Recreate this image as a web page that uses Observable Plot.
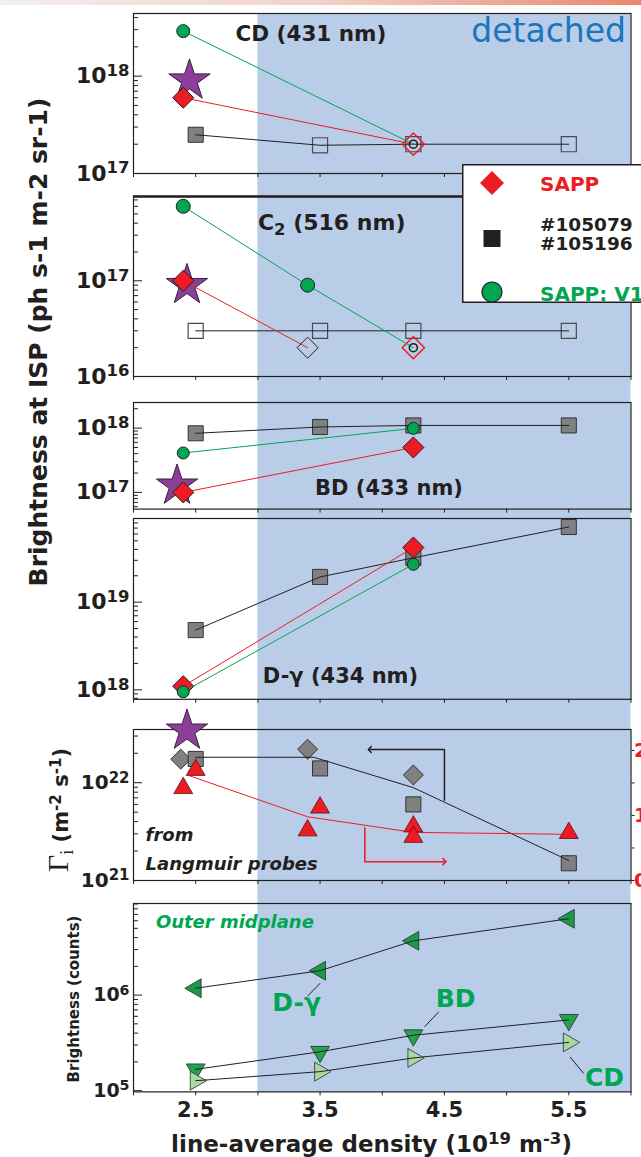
<!DOCTYPE html>
<html>
<head>
<meta charset="utf-8">
<script src="https://cdn.jsdelivr.net/npm/d3@7"></script>
<script src="https://cdn.jsdelivr.net/npm/@observablehq/plot@0.6"></script>
<style>
  body { margin: 0; background: #fff; }
  #wrap { position: relative; width: 641px; height: 1157px; overflow: hidden;
          font-family: 'DejaVu Sans', sans-serif; font-weight: bold; color: #231f20; }
  .rot { position: absolute; white-space: nowrap; line-height: 1;
         transform: translate(-50%, -50%) rotate(-90deg); }
  .sup { font-size: 0.72em; position: relative; top: -0.45em; }
  #topbar { position: absolute; left: 0; top: 0; width: 641px; height: 5px;
            background: linear-gradient(to right, #f3efef, #f1d2c8 50%, #e8876d); }
</style>
</head>
<body>
<div id="wrap">
  <div id="topbar"></div>
</div>
<script>
// ================= DATA =================
const xDomain = [2, 6];
const detachedStart = 3.0;
const xTickValues = [2, 2.5, 3, 3.5, 4, 4.5, 5, 5.5, 6];
const xTickLabelValues = [2.5, 3.5, 4.5, 5.5];

// Panel 1 — CD (431 nm); [density, brightness, flag]  ("o" = open symbol)
const cdShots = [[2.5, 2.5e17], [3.5, 1.95e17, "o"], [4.25, 2.0e17, "o"], [5.5, 2.0e17, "o"]];
const cdSAPP  = [[2.4, 6.0e17], [4.25, 2.0e17, "o"]];
const cdV1    = [[2.4, 2.9e18], [4.25, 2.0e17, "o"]];
const cdStar  = [[2.45, 9.0e17]];
const cdDomain = [1e17, 4.4e18];

// Panel 2 — C2 (516 nm)
const c2Shots = [[2.5, 3e16, "o"], [3.5, 3e16, "o"], [4.25, 3e16, "o"], [5.5, 3e16, "o"]];
const c2SAPP  = [[2.4, 1.0e17], [3.4, 2.0e16, "k"]];
const c2SAPPalone = [[4.25, 2.0e16, "o"]];
const c2V1    = [[2.4, 6.0e17], [3.4, 9.0e16], [4.25, 2.0e16, "o"]];
const c2Star  = [[2.43, 9.0e16]];
const c2Domain = [1e16, 7.6e17];

// Panel 3 — BD (433 nm)
const bdShots = [[2.5, 8.3e17], [3.5, 1.04e18], [4.25, 1.1e18], [5.5, 1.1e18]];
const bdSAPP  = [[2.4, 1.0e17], [4.25, 5.0e17]];
const bdV1    = [[2.4, 4.1e17], [4.25, 9.9e17]];
const bdStar  = [[2.35, 1.27e17]];
const bdDomain = [5.5e16, 2.5e18];

// Panel 4 — D-γ (434 nm)
const dgShots = [[2.5, 4.8e18], [3.5, 1.94e19], [4.25, 3.2e19], [5.5, 7.2e19]];
const dgSAPP  = [[2.4, 1.1e18], [4.25, 4.2e19]];
const dgV1    = [[2.4, 9.5e17], [4.25, 2.7e19]];
const dgDomain = [7.8e17, 9e19];

// Panel 5 — Γi from Langmuir probes (left axis, m^-2 s^-1)
const gammaDiamonds = [[2.38, 1.74e22], [3.4, 2.2e22], [4.25, 1.2e22]];
const gammaSquares  = [[2.5, 1.75e22], [3.5, 1.4e22], [4.25, 6.0e21], [5.5, 1.5e21]];
const gammaTrend    = [[2.5, 1.82e22], [3.45, 1.82e22], [4.25, 8.9e21], [5.5, 1.6e21]];
const gammaStar     = [[2.43, 3.4e22]];
const gammaArrow    = [[4.5, 6.6e21], [4.5, 2.19e22], [3.9, 2.19e22]];
// right (red) axis, linear units
const redTriangles  = [[2.5, 1.70], [2.4, 1.42], [3.5, 1.12], [3.4, 0.77], [4.25, 0.83], [4.25, 0.67], [5.5, 0.73]];
const redTrend      = [[2.45, 1.61], [3.4, 0.98], [4.25, 0.74], [5.5, 0.71]];
const redArrow      = [[3.86, 0.81], [3.86, 0.29], [4.5, 0.29]];
const redTicks = [0, 0.5, 1, 1.5, 2];
const redTickLabels = [0, 1, 2];
const gammaDomain = [1e21, 3.5e22];
const rightAxisDecadesPerUnit = 0.665;   // right axis unit expressed in left-axis decades

// Panel 6 — Outer midplane brightness (counts)
const omDgamma = [[2.5, 1.18e6], [3.5, 1.8e6], [4.25, 3.7e6], [5.5, 6.3e6]];
const omBD     = [[2.5, 1.67e5], [3.5, 2.55e5], [4.25, 3.8e5], [5.5, 5.5e5]];
const omCD     = [[2.5, 1.27e5], [3.5, 1.58e5], [4.25, 2.2e5], [5.5, 3.2e5]];
const omDomain = [9.7e4, 9.1e6];

// Annotations [x, y, text]
const cdTitle = [[2.82, 2.7e18, "CD (431 nm)"]];
const detachedLabel = [[5.96, 2.85e18, "detached"]];
const c2Title = [[3.0, 4.0e17, "C_{2} (516 nm)"]];
const bdTitle = [[3.46, 1.16e17, "BD (433 nm)"]];
const dgTitle = [[3.04, 1.41e18, "D-γ (434 nm)"]];
const lpLabel = [[2.097, 2.88e21, "from"], [2.097, 1.47e21, "Langmuir probes"]];
const omTitle = [[2.18, 5.8e6, "Outer midplane"]];
const omLabels = [[3.116, 8.2e5, "D-γ"], [4.43, 9.0e5, "BD"], [5.63, 1.35e5, "CD"]];
const omLeaders = [[3.40, 9.76e5, 3.50, 1.33e6], [4.34, 4.65e5, 4.455, 6.7e5], [5.51, 2.25e5, 5.62, 1.51e5]];

// ================= STYLE =================
const C = {
  red: "#ed1c24", green: "#00a651", gray: "#808080", ink: "#231f20",
  purple: "#8b3f97", blue: "#b9cde9", blueText: "#1b75bb",
  dgFill: "#1a9a4a", bdFill: "#22a34e", cdFill: "#a8d9a0"
};
const ML = 133, MR = 10.5, W = 641;
const SVGSTYLE = "position:absolute;left:0;background:transparent;overflow:visible;font-family:'DejaVu Sans',sans-serif;font-weight:bold;color:#231f20;";
const X = d => d[0], Y = d => d[1];
const toLeft = v => 10 ** (Math.log10(gammaDomain[0]) + v * rightAxisDecadesPerUnit);
const fromLeft = y => (Math.log10(y) - Math.log10(gammaDomain[0])) / rightAxisDecadesPerUnit;
const wrap = document.getElementById("wrap");

function logTicks([lo, hi]) {
  const minor = [], major = [];
  for (let d = Math.floor(Math.log10(lo)); d <= Math.ceil(Math.log10(hi)); d++)
    for (let k = 1; k < 10; k++) {
      const v = k * 10 ** d;
      if (v >= lo * 0.999 && v <= hi * 1.001) (k === 1 ? major : minor).push(v);
    }
  return {minor, major};
}
const pow10 = v => `10^{${Math.round(Math.log10(v))}}`;

const line = (data, stroke) => Plot.line(data, {x: X, y: Y, stroke, strokeWidth: 1});
const star = data => Plot.dot(data, {x: X, y: Y, symbol: "star", r: 13, fill: C.purple, stroke: "#3a1f40", strokeWidth: 1});
const shots = data => [
  Plot.dot(data, {filter: d => !d[2], x: X, y: Y, symbol: "square", r: 8.5, fill: C.gray, stroke: "#333", strokeWidth: 1}),
  Plot.dot(data, {filter: d => d[2] === "o", x: X, y: Y, symbol: "square", r: 8.5, fill: "none", stroke: "#4a4a4a", strokeWidth: 1.2})
];
const sapp = data => [
  Plot.dot(data, {filter: d => !d[2], x: X, y: Y, symbol: "diamond2", r: 9.5, fill: C.red, stroke: C.ink, strokeWidth: 1}),
  Plot.dot(data, {filter: d => d[2] === "o", x: X, y: Y, symbol: "diamond2", r: 10, fill: "none", stroke: C.red, strokeWidth: 1.5}),
  Plot.dot(data, {filter: d => d[2] === "k", x: X, y: Y, symbol: "diamond2", r: 9.5, fill: "none", stroke: C.ink, strokeWidth: 1})
];
const v1 = (data, r) => [
  Plot.dot(data, {filter: d => !d[2], x: X, y: Y, r, fill: C.green, stroke: C.ink, strokeWidth: 1}),
  Plot.dot(data, {filter: d => d[2] === "o", x: X, y: Y, r: 4, fill: "none", stroke: C.ink, strokeWidth: 1.6})
];
const title = (data, fontSize) => Plot.text(data, {x: X, y: Y, text: d => d[2], textAnchor: "start", fontSize, fontWeight: "bold", fill: C.ink});

function panel({top, bottom, domain, fs = 22, mt = 24, mb = 14, xLabels = false, marks, right = []}) {
  const {minor, major} = logTicks(domain);
  const svg = Plot.plot({
    width: W, height: bottom - top + mt + mb,
    marginLeft: ML, marginRight: MR, marginTop: mt, marginBottom: mb,
    x: {domain: xDomain}, y: {type: "log", domain},
    marks: [
      Plot.frame({stroke: C.ink, strokeWidth: 1.2}),
      Plot.axisX({ticks: xTickValues, tickSize: 4, tickFormat: () => "", label: null}),
      ...(xLabels ? [Plot.axisX({ticks: xTickLabelValues, tickSize: 0, tickPadding: 10, tickFormat: d => d.toFixed(1), fontSize: 21, label: null})] : []),
      Plot.axisY({ticks: minor, tickSize: -5, tickFormat: () => "", label: null}),
      Plot.axisY({ticks: major, tickSize: -9, tickFormat: () => "", label: null}),
      Plot.axisY({ticks: major, tickSize: 0, tickPadding: 4, tickFormat: pow10, fontSize: fs, label: null}),
      ...right,
      ...marks.flat()
    ]
  });
  svg.setAttribute("style", SVGSTYLE + `top:${top - mt}px;`);
  wrap.appendChild(svg);
  return svg;
}

// ---- background: detached region ----
const bg = Plot.plot({
  width: W, height: 1157, marginLeft: ML, marginRight: MR, marginTop: 13.3, marginBottom: 1157 - 1092,
  x: {domain: xDomain, axis: null},
  marks: [Plot.rect([{x1: detachedStart, x2: xDomain[1]}], {x1: "x1", x2: "x2", fill: C.blue})]
});
bg.setAttribute("style", SVGSTYLE + "top:0px;");
wrap.appendChild(bg);

// ---- Panel 1: CD ----
panel({top: 13.3, bottom: 173.3, domain: cdDomain, marks: [
  star(cdStar), shots(cdShots), line(cdShots, C.ink),
  line(cdSAPP, C.red), sapp(cdSAPP), line(cdV1, C.green), v1(cdV1, 6.5),
  title(cdTitle, 21.5),
  Plot.text(detachedLabel, {x: X, y: Y, text: d => d[2], textAnchor: "end", fontSize: 33, fontWeight: "normal", fill: C.blueText})
]});

// ---- Panel 2: C2 ----
panel({top: 195.7, bottom: 375.7, domain: c2Domain, marks: [
  Plot.ruleY([c2Domain[1]], {stroke: C.ink, strokeWidth: 2.5}),
  star(c2Star), shots(c2Shots), line(c2Shots, C.ink),
  line(c2SAPP, C.red), sapp(c2SAPP), sapp(c2SAPPalone), line(c2V1, C.green), v1(c2V1, 7),
  title(c2Title, 22)
]});

// ---- Panel 3: BD ----
panel({top: 401.7, bottom: 508.3, domain: bdDomain, marks: [
  star(bdStar), shots(bdShots), line(bdShots, C.ink),
  line(bdSAPP, C.red), sapp(bdSAPP), line(bdV1, C.green), v1(bdV1, 6),
  title(bdTitle, 21)
]});

// ---- Panel 4: D-gamma ----
panel({top: 517.5, bottom: 698.3, domain: dgDomain, marks: [
  shots(dgShots), line(dgShots, C.ink),
  line(dgSAPP, C.red), sapp(dgSAPP), line(dgV1, C.green), v1(dgV1, 6),
  title(dgTitle, 21)
]});

// ---- Panel 5: ion flux ----
const redPt = d => toLeft(d[1]);
panel({top: 729, bottom: 880, domain: gammaDomain, fs: 20, mt: 40, right: [
  Plot.axisY({anchor: "right", ticks: redTicks.map(toLeft), tickSize: 3, tickFormat: () => "", label: null}),
  Plot.axisY({anchor: "right", ticks: redTickLabels.map(toLeft), tickSize: 0, tickPadding: 3, fontSize: 20, fill: C.red,
              tickFormat: y => String(Math.round(fromLeft(y))), label: null})
], marks: [
  star(gammaStar),
  Plot.dot(gammaDiamonds, {x: X, y: Y, symbol: "diamond2", r: 9, fill: C.gray, stroke: "#333", strokeWidth: 1}),
  Plot.dot(gammaSquares, {x: X, y: Y, symbol: "square", r: 8.5, fill: C.gray, stroke: "#333", strokeWidth: 1}),
  Plot.line(gammaTrend, {x: X, y: Y, stroke: C.ink, strokeWidth: 1}),
  Plot.line(redTrend, {x: X, y: redPt, stroke: C.red, strokeWidth: 1}),
  Plot.dot(redTriangles, {x: X, y: redPt, symbol: "triangle", r: 7, fill: C.red, stroke: "#5a1010", strokeWidth: 0.8}),
  Plot.line(gammaArrow, {x: X, y: Y, stroke: C.ink, strokeWidth: 1.5, markerEnd: "arrow"}),
  Plot.line(redArrow, {x: X, y: redPt, stroke: C.red, strokeWidth: 1.5, markerEnd: "arrow"}),
  Plot.text(lpLabel, {x: X, y: Y, text: d => d[2], textAnchor: "start", fontSize: 18, fontStyle: "italic", fontWeight: "bold", fill: C.ink})
]});

// ---- Panel 6: outer midplane ----
panel({top: 903.3, bottom: 1091.7, domain: omDomain, fs: 19, mb: 40, xLabels: true, marks: [
  Plot.dot(omDgamma, {x: X, y: Y, symbol: "triangle", rotate: -90, r: 7, fill: C.dgFill, stroke: "#2b2b2b", strokeWidth: 0.8}),
  Plot.dot(omBD, {x: X, y: Y, symbol: "triangle", rotate: 180, r: 7, fill: C.bdFill, stroke: "#2b2b2b", strokeWidth: 0.8}),
  Plot.dot(omCD, {x: X, y: Y, symbol: "triangle", rotate: 90, r: 7, fill: C.cdFill, stroke: "#2b2b2b", strokeWidth: 0.8}),
  line(omDgamma, C.ink), line(omBD, C.ink), line(omCD, C.ink),
  Plot.link(omLeaders, {x1: d => d[0], y1: d => d[1], x2: d => d[2], y2: d => d[3], stroke: C.ink, strokeWidth: 1}),
  Plot.text(omTitle, {x: X, y: Y, text: d => d[2], textAnchor: "start", fontSize: 18, fontStyle: "italic", fontWeight: "bold", fill: C.green}),
  Plot.text(omLabels, {x: X, y: Y, text: d => d[2], textAnchor: "start", fontSize: 25, fontWeight: "bold", fill: C.green})
]});

// ---- legend ----
wrap.insertAdjacentHTML("beforeend", `
<svg width="179" height="140" style="position:absolute;left:462px;top:163.5px;font-family:'DejaVu Sans',sans-serif;font-weight:bold;">
  <rect x="0.75" y="0.75" width="300" height="137.5" fill="#fff" stroke="${C.ink}" stroke-width="1.5"/>
  <path d="M30,7L42,19L30,31L18,19Z" fill="${C.red}"/>
  <rect x="21.5" y="66" width="17" height="17" fill="${C.ink}"/>
  <circle cx="30" cy="128" r="10" fill="${C.green}" stroke="${C.ink}" stroke-width="1.2"/>
  <text x="78" y="27" font-size="20" fill="${C.red}">SAPP</text>
  <text x="78" y="67" font-size="18.5" fill="${C.ink}">#105079</text>
  <text x="78" y="86" font-size="18.5" fill="${C.ink}">#105196</text>
  <text x="78" y="137" font-size="20" fill="${C.green}">SAPP: V1</text>
</svg>`);

// ---- axis titles ----
wrap.insertAdjacentHTML("beforeend", `
<div class="rot" style="left:38px;top:342px;font-size:25px;">Brightness at ISP (ph s-1 m-2 sr-1)</div>
<div class="rot" style="left:58px;top:810px;font-size:21px;"><span style="font-family:'Liberation Serif',serif;font-weight:normal;font-size:30px;">Γ</span><span style="font-family:'Liberation Serif',serif;font-weight:normal;font-size:18px;position:relative;top:5px;">i</span> (m<span class="sup">-2</span> s<span class="sup">-1</span>)</div>
<div class="rot" style="left:74px;top:999px;font-size:15px;">Brightness (counts)</div>
<div style="position:absolute;left:371.5px;top:1132.5px;transform:translateX(-50%);white-space:nowrap;line-height:1;font-size:23px;">line-average density (10<span class="sup">19</span> m<span class="sup">-3</span>)</div>
`);

// ---- rich text: ^{sup} and _{sub} ----
function richify(root) {
  const ns = "http://www.w3.org/2000/svg";
  root.querySelectorAll("svg text, svg tspan").forEach(el => {
    if (el.children.length) return;
    const s = el.textContent;
    if (!/[\^_]\{/.test(s)) return;
    const fs = parseFloat(getComputedStyle(el).fontSize);
    el.textContent = "";
    const re = /([\^_])\{([^}]*)\}/g;
    let last = 0, shift = 0, m;
    const add = (txt, kind) => {
      const t = document.createElementNS(ns, "tspan");
      t.textContent = txt;
      const target = kind === "^" ? -0.33 * fs : kind === "_" ? 0.22 * fs : 0;
      if (kind) t.setAttribute("font-size", 0.75 * fs);
      if (target - shift) t.setAttribute("dy", target - shift);
      shift = target;
      el.appendChild(t);
    };
    while ((m = re.exec(s))) {
      if (m.index > last) add(s.slice(last, m.index));
      add(m[2], m[1]);
      last = re.lastIndex;
    }
    if (last < s.length) add(s.slice(last));
  });
}
richify(wrap);
</script>
</body>
</html>
